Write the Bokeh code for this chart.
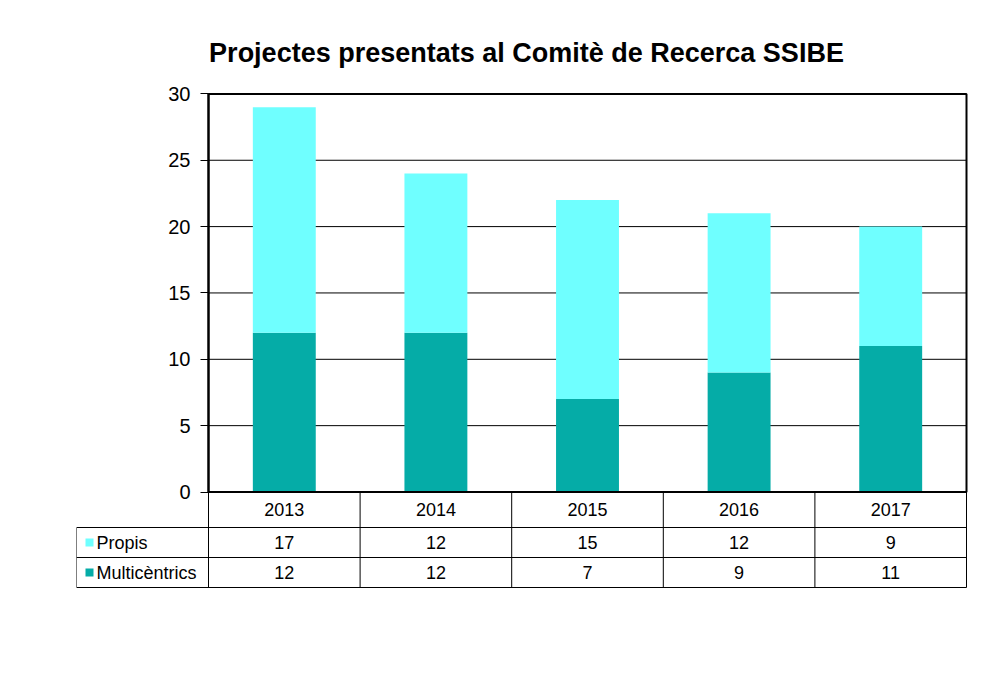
from bokeh.plotting import figure
from bokeh.models import Range1d, LinearAxis, FixedTicker, ColumnDataSource
from bokeh.core.properties import value
from bokeh.embed import file_html
from bokeh.resources import INLINE

# ---- data ----
years = ["2013", "2014", "2015", "2016", "2017"]
propis = [17, 12, 15, 12, 9]
multicentrics = [12, 12, 7, 9, 11]
series_names = ["Propis", "Multicèntrics"]
series_colors = ["#6FFFFF", "#05ACA7"]
y_ticks = [0, 5, 10, 15, 20, 25, 30]
title_text = "Projectes presentats al Comitè de Recerca SSIBE"

# ---- layout constants (page pixels) ----
FONT = "Liberation Sans"
FRAME_L, FRAME_R, FRAME_T, FRAME_B = 76, 976, 78, 596
AX_X0, PX_X = 208.0, 151.6          # page x of category axis start, px per category
AX_Y0, PX_Y = 491.5, 13.27          # page y of value 0, px per unit
ROW_LINES_PAGE = [527, 557, 587]    # table row separators
LABEL_COL_PAGE = 76                 # left edge of label column

def xd(px):
    return (px - AX_X0) / PX_X

def yd(py):
    return (AX_Y0 - py) / PX_Y

n = len(years)
y_top = max(y_ticks)

p = figure(
    width=FRAME_R + 2, height=FRAME_B + 4,
    x_range=Range1d(xd(FRAME_L), xd(FRAME_R)),
    y_range=Range1d(yd(FRAME_B), yd(FRAME_T)),
    x_axis_location=None, y_axis_location=None,
    toolbar_location=None, output_backend="svg",
    min_border_left=FRAME_L, min_border_right=2,
    min_border_top=FRAME_T, min_border_bottom=4,
    title=title_text,
)
p.outline_line_color = None
p.grid.visible = False
p.background_fill_color = "white"
p.border_fill_color = "white"

p.title.text_font = FONT
p.title.text_font_size = "27px"
p.title.text_font_style = "bold"
p.title.align = "center"
p.title.text_color = "black"
p.title.standoff = 22

# y axis at x = 0 (left edge of the chart area)
yaxis = LinearAxis(fixed_location=0, ticker=FixedTicker(ticks=y_ticks), bounds=(0, y_top))
yaxis.axis_line_width = 2
yaxis.axis_line_color = "black"
yaxis.major_tick_out = 8
yaxis.major_tick_in = 0
yaxis.major_tick_line_color = "black"
yaxis.minor_tick_line_color = None
yaxis.major_label_text_font = FONT
yaxis.major_label_text_font_size = "20px"
yaxis.major_label_text_color = "black"
yaxis.major_label_standoff = 10
p.add_layout(yaxis, "left")

# gridlines
inner = [t for t in y_ticks if 0 < t < y_top]
p.segment(x0=[0] * len(inner), x1=[n] * len(inner), y0=inner, y1=inner,
          line_color="black", line_width=1)

# stacked bars
src = ColumnDataSource(dict(x=[i + 0.5 for i in range(n)], years=years,
                            Propis=propis, Multi=multicentrics))
p.vbar_stack(["Multi", "Propis"], x="x", width=0.415, source=src,
             fill_color=[series_colors[1], series_colors[0]], line_color=None)

# chart frame
p.quad(left=[0], right=[n], bottom=[0], top=[y_top], fill_color=None,
       line_color="black", line_width=2)

# ---- data table ----
r1, r2, r3 = [yd(v) for v in ROW_LINES_PAGE]
xl = xd(LABEL_COL_PAGE)
# horizontal lines
p.segment(x0=[0, xl, xl, xl], x1=[n, n, n, n], y0=[r1, r1, r2, r3], y1=[r1, r1, r2, r3],
          line_color="black", line_width=1)
# vertical lines
vx = list(range(1, n + 1))
p.segment(x0=vx, x1=vx, y0=[0] * n, y1=[r3] * n, line_color="black", line_width=1)
p.segment(x0=[0, xl], x1=[0, xl], y0=[0, r1], y1=[r3, r3], line_color="black", line_width=1)

xs = [i + 0.5 for i in range(n)]
txt_kw = dict(text_font=value(FONT), text_font_size="18px", text_color="black",
              text_align="center", text_baseline="middle")
p.text(x=xs, y=[r1 / 2] * n, text=years, **txt_kw)
p.text(x=xs, y=[(r1 + r2) / 2] * n, text=[str(v) for v in propis], **txt_kw)
p.text(x=xs, y=[(r2 + r3) / 2] * n, text=[str(v) for v in multicentrics], **txt_kw)

# row labels with legend keys
row_y = [(r1 + r2) / 2, (r2 + r3) / 2]
p.scatter(x=[xd(89)] * 2, y=row_y, marker="square", size=8,
          fill_color=series_colors, line_color=None)
p.text(x=[xd(96)] * 2, y=row_y, text=series_names, text_font=value(FONT),
       text_font_size="18px", text_color="black", text_align="left",
       text_baseline="middle")

open("out.html", "w").write(file_html(p, INLINE))
